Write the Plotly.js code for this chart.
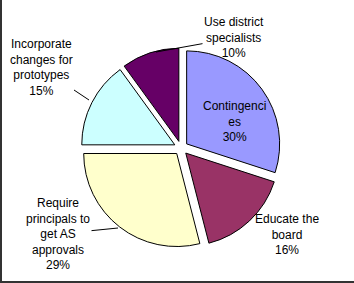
<!DOCTYPE html>
<html>
<head>
<meta charset="utf-8">
<script src="https://cdn.plot.ly/plotly-3.0.1.min.js"></script>
<style>
html,body{margin:0;padding:0;background:#fff;}
#wrap{position:absolute;left:0;top:0;width:352px;height:281px;border-left:2px solid #333;border-bottom:2px solid #333;}
#chart{width:352px;height:281px;}
</style>
</head>
<body>
<div id="wrap"><div id="chart"></div></div>
<script>
// Data
var categories = ["Contingencies", "Educate the board", "Require principals to get AS approvals", "Incorporate changes for prototypes", "Use district specialists"];
var displayLabels = ["Contingenci<br>es", "Educate the<br>board", "Require<br>principals to<br>get AS<br>approvals", "Incorporate<br>changes for<br>prototypes", "Use district<br>specialists"];
var values = [30, 16, 29, 15, 10];
var colors = ["#9999FF", "#993366", "#FFFFCC", "#CCFFFF", "#660066"];

var W = 352, H = 281;
function px(x){return x/W;}
function py(y){return 1 - y/H;}

// label layout: text centre and optional leader-line tip (pixels)
var labelPos = [
  {cx:232, cy:122, tip:null},
  {cx:285, cy:234, tip:null},
  {cx:56,  cy:234, tip:[116,228]},
  {cx:39,  cy:68,  tip:[87,100]},
  {cx:232, cy:38,  tip:[154,52]}
];

var total = values.reduce(function(a,b){return a+b;},0);
var annotations = categories.map(function(c,i){
  var pct = Math.round(values[i]/total*100) + "%";
  var p = labelPos[i];
  var a = {
    text: displayLabels[i] + "<br>" + pct,
    xref:"paper", yref:"paper",
    xanchor:"center", yanchor:"middle",
    font:{family:"Liberation Sans, Arial, sans-serif", size:12, color:"#000"},
    align:"center"
  };
  if(p.tip){
    a.x = px(p.tip[0]); a.y = py(p.tip[1]);
    a.showarrow = true; a.arrowhead = 0; a.arrowwidth = 1; a.arrowcolor = "#000";
    a.ax = p.cx - p.tip[0]; a.ay = p.cy - p.tip[1];
    a.standoff = 0;
  } else {
    a.x = px(p.cx); a.y = py(p.cy); a.showarrow = false;
  }
  return a;
});

var cx = 179, cy = 148, R = 100;
var trace = {
  type:"pie",
  labels: categories,
  values: values,
  sort:false,
  direction:"clockwise",
  rotation:0,
  pull:[0.075,0.075,0.075,0.075,0.075],
  marker:{colors:colors, line:{color:"#000", width:1}},
  textinfo:"none",
  hoverinfo:"none",
  domain:{x:[px(cx-R), px(cx+R)], y:[py(cy+R), py(cy-R)]}
};

var layout = {
  width:W, height:H,
  margin:{l:0,r:0,t:0,b:0},
  showlegend:false,
  paper_bgcolor:"#fff",
  annotations: annotations
};
Plotly.newPlot("chart", [trace], layout, {staticPlot:true, displayModeBar:false});
</script>
</body>
</html>
